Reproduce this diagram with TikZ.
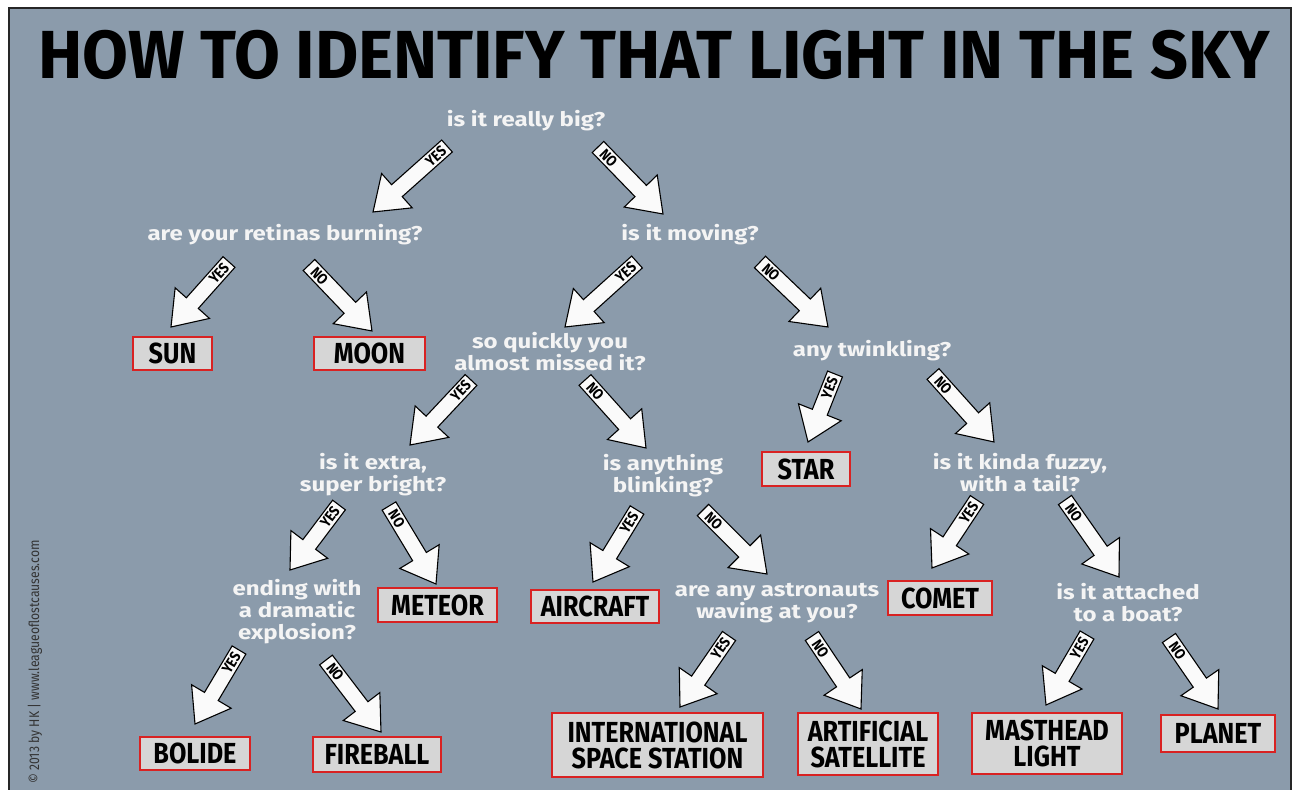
\documentclass[tikz,border=0pt]{standalone}
\usepackage{fontspec}
\usepackage{graphicx}
\setmainfont{Fira Sans}
\newfontfamily\titlefont{Fira Sans}
\newfontfamily\boxfont{Fira Sans}[FakeStretch=0.87]
\newfontfamily\qfont{Fira Sans}[FakeStretch=1.2]
\usetikzlibrary{calc}
\definecolor{bg}{HTML}{8B9BAB}
\definecolor{qwhite}{HTML}{F4F4F4}
\definecolor{boxgray}{HTML}{D6D6D6}
\definecolor{boxred}{HTML}{D92222}
\tikzset{
  q/.style={text=qwhite, font=\qfont\bfseries\fontsize{20}{22}\selectfont, align=center, inner sep=0pt},
  ans/.style={draw=boxred, line width=2.4pt, fill=boxgray, text=black,
     font=\boxfont\bfseries\fontsize{29}{26}\selectfont, align=center, inner sep=0pt},
  blockarrow/.style={fill=white!96!gray, draw=black, line width=1.1pt, line join=miter},
  arlabel/.style={font=\boxfont\bfseries\fontsize{15}{15}\selectfont, text=black, inner sep=0pt}
}
\newcommand\barrow[3]{%
  \pgfpointdiff{\pgfpointanchor{#1}{center}}{\pgfpointanchor{#2}{center}}%
  \pgfgetlastxy{\ardx}{\ardy}%
  \pgfmathsetmacro\arang{atan2(\ardy,\ardx)}%
  \pgfmathsetmacro\arlen{veclen(\ardx,\ardy)}%
  \pgfmathsetmacro\arlab{\arang<-90 ? \arang+180 : (\arang>90 ? \arang-180 : \arang)}%
  \begin{scope}[shift={(#1)}, rotate=\arang, x=1pt, y=1pt]
    \draw[blockarrow] (0,-8) -- (\arlen-32,-8) -- (\arlen-32,-23) -- (\arlen,0)
      -- (\arlen-32,23) -- (\arlen-32,8) -- (0,8) -- cycle;
    \node[arlabel, rotate=\arlab] at (15,0) {#3};
  \end{scope}}
\begin{document}
\begin{tikzpicture}[x=1pt,y=-1pt]
\useasboundingbox (0,0) rectangle (1294,790);
\fill[white] (0,0) rectangle (1294,790);
\fill[bg] (9,8) rectangle (1291,790);
\draw[line width=2pt, black!85] (9,790) -- (9,8) -- (1291,8) -- (1291,790);

\node[anchor=base west, inner sep=0pt] (title) at (38,78)
  {\resizebox{1232pt}{\height}{\titlefont\bfseries\fontsize{68}{68}\selectfont HOW TO IDENTIFY THAT LIGHT IN THE SKY}};

\node[rotate=90, inner sep=0pt, text=black!80, font=\boxfont\fontsize{14}{14}\selectfont] (copy) at (35,662)
  {© 2013 by HK | www.leagueoflostcauses.com};

% questions
\node[q] (big) at (526,121) {is it really big?};
\node[q] (retina) at (285,235) {are your retinas burning?};
\node[q] (moving) at (690,235) {is it moving?};
\node[q] (quick) at (550,352) {so quickly you\\almost missed it?};
\node[q] (twinkle) at (872,351) {any twinkling?};
\node[q] (extra) at (373,475) {is it extra,\\super bright?};
\node[q] (blink) at (663,476) {is anything\\blinking?};
\node[q] (fuzzy) at (1020,473) {is it kinda fuzzy,\\with a tail?};
\node[q] (explo) at (297,612) {ending with\\a dramatic\\explosion?};
\node[q] (astro) at (777,603) {are any astronauts\\waving at you?};
\node[q] (boat) at (1128,603) {is it attached\\to a boat?};

% answers
\node[ans, minimum width=79pt, minimum height=33pt] (sun) at (172.5,353.5) {SUN};
\node[ans, minimum width=111pt, minimum height=33pt] (moon) at (369.5,353.5) {MOON};
\node[ans, minimum width=88pt, minimum height=34pt] (star) at (806,469) {STAR};
\node[ans, minimum width=119pt, minimum height=34pt] (meteor) at (437.5,605) {METEOR};
\node[ans, minimum width=128pt, minimum height=33pt] (aircraft) at (595,606.5) {AIRCRAFT};
\node[ans, minimum width=104pt, minimum height=34pt] (comet) at (940,598) {COMET};
\node[ans, minimum width=110pt, minimum height=33pt] (bolide) at (195,753.5) {BOLIDE};
\node[ans, minimum width=128pt, minimum height=35pt] (fireball) at (377,754.5) {FIREBALL};
\node[ans, minimum width=211pt, minimum height=64pt] (iss) at (657.5,745) {INTERNATIONAL\\SPACE STATION};
\node[ans, minimum width=140pt, minimum height=62pt] (artsat) at (868,744) {ARTIFICIAL\\SATELLITE};
\node[ans, minimum width=150pt, minimum height=61pt] (mast) at (1047,743.5) {MASTHEAD\\LIGHT};
\node[ans, minimum width=114pt, minimum height=37pt] (planet) at (1218,733.5) {PLANET};

% arrow end points
\coordinate (a1s) at (447,146);  \coordinate (a1e) at (373,212);
\coordinate (a2s) at (598,147);  \coordinate (a2e) at (663,214);
\coordinate (a3s) at (229,262);  \coordinate (a3e) at (171,327);
\coordinate (a4s) at (309,265);  \coordinate (a4e) at (372,331);
\coordinate (a5s) at (637,262);  \coordinate (a5e) at (565,327);
\coordinate (a6s) at (760,262);  \coordinate (a6e) at (828,327);
\coordinate (a7s) at (471,380);  \coordinate (a7e) at (410,445);
\coordinate (a8s) at (585,380);  \coordinate (a8e) at (646,448);
\coordinate (a9s) at (835,374);  \coordinate (a9e) at (808,442);
\coordinate (a10s) at (933,374); \coordinate (a10e) at (994,442);
\coordinate (a11s) at (339,505); \coordinate (a11e) at (290,570);
\coordinate (a12s) at (389,506); \coordinate (a12e) at (436,584);
\coordinate (a13s) at (637,510); \coordinate (a13e) at (593,582);
\coordinate (a14s) at (703,510); \coordinate (a14e) at (767,574);
\coordinate (a15s) at (977,500); \coordinate (a15e) at (932,568);
\coordinate (a16s) at (1065,500);\coordinate (a16e) at (1119,577);
\coordinate (a17s) at (239,650); \coordinate (a17e) at (195,724);
\coordinate (a18s) at (326,660); \coordinate (a18e) at (381,732);
\coordinate (a19s) at (729,636); \coordinate (a19e) at (680,707);
\coordinate (a20s) at (812,636); \coordinate (a20e) at (861,709);
\coordinate (a21s) at (1087,635);\coordinate (a21e) at (1046,705);
\coordinate (a22s) at (1169,638);\coordinate (a22e) at (1218,709);

\barrow{a1s}{a1e}{YES}
\barrow{a2s}{a2e}{NO}
\barrow{a3s}{a3e}{YES}
\barrow{a4s}{a4e}{NO}
\barrow{a5s}{a5e}{YES}
\barrow{a6s}{a6e}{NO}
\barrow{a7s}{a7e}{YES}
\barrow{a8s}{a8e}{NO}
\barrow{a9s}{a9e}{YES}
\barrow{a10s}{a10e}{NO}
\barrow{a11s}{a11e}{YES}
\barrow{a12s}{a12e}{NO}
\barrow{a13s}{a13e}{YES}
\barrow{a14s}{a14e}{NO}
\barrow{a15s}{a15e}{YES}
\barrow{a16s}{a16e}{NO}
\barrow{a17s}{a17e}{YES}
\barrow{a18s}{a18e}{NO}
\barrow{a19s}{a19e}{YES}
\barrow{a20s}{a20e}{NO}
\barrow{a21s}{a21e}{YES}
\barrow{a22s}{a22e}{NO}
\end{tikzpicture}
\end{document}
